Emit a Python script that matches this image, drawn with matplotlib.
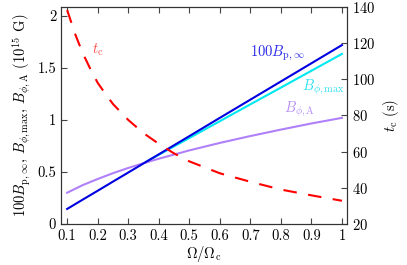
import matplotlib
matplotlib.use("Agg")
import matplotlib.pyplot as plt
from matplotlib.ticker import FuncFormatter

plt.rcParams['font.family'] = 'serif'
plt.rcParams['font.serif'] = ['cmr10', 'DejaVu Serif']
plt.rcParams['mathtext.fontset'] = 'cm'
plt.rcParams['axes.formatter.use_mathtext'] = True
plt.rcParams['font.size'] = 10.5

# data
omega = [0.1, 0.15, 0.2, 0.25, 0.3, 0.35, 0.4, 0.5, 0.6, 0.7, 0.8, 0.9, 1.0]
bp100 = [0.144, 0.232, 0.319, 0.407, 0.494, 0.582, 0.669, 0.844, 1.02, 1.195, 1.37, 1.545, 1.72]
omega_max = [0.36, 0.4, 0.5, 0.6, 0.7, 0.8, 0.9, 1.0]
bphi_max = [0.60, 0.665, 0.826, 0.988, 1.15, 1.311, 1.473, 1.635]
bphi_a = [0.300, 0.372, 0.432, 0.488, 0.538, 0.584, 0.627, 0.707, 0.779, 0.845, 0.907, 0.966, 1.02]
omega_tc = [0.1, 0.125, 0.15, 0.175, 0.2, 0.225, 0.25, 0.3, 0.35, 0.4, 0.45, 0.5, 0.6, 0.7, 0.8, 0.9, 1.0]
tc = [138.3, 125.5, 114.8, 106.0, 98.0, 92.0, 86.3, 77.5, 70.2, 64.3, 59.0, 54.6, 48.0, 43.3, 39.0, 35.8, 32.8]

fig = plt.figure(figsize=(4.07, 2.65), dpi=100)
ax = fig.add_axes([0.150, 0.155, 0.703, 0.819])

c_blue = '#0000e0'
c_cyan = '#00e8f0'
c_purple = '#b080f8'
c_red = '#ff0000'

ax.plot(omega_max, bphi_max, color=c_cyan, lw=1.5)
ax.plot(omega, bphi_a, color=c_purple, lw=1.5)
ax.plot(omega, bp100, color=c_blue, lw=1.5)

ax.set_xlim(0.08, 1.017)
ax.set_ylim(0, 2.087)
ax.set_xticks([0.1, 0.2, 0.3, 0.4, 0.5, 0.6, 0.7, 0.8, 0.9, 1.0])
ax.set_yticks([0, 0.5, 1, 1.5, 2])
fmt = FuncFormatter(lambda v, p: ('%g' % v))
ax.xaxis.set_major_formatter(fmt)
ax.yaxis.set_major_formatter(fmt)
ax.tick_params(direction='in', top=True, length=4, width=0.8, color='#444444')
ax.set_xlabel(r'$\Omega/\Omega_{\rm c}$', labelpad=1)
ax.set_ylabel(r'$100B_{\rm p,\infty}$, $B_{\phi,{\rm max}}$, $B_{\phi,{\rm A}}$ ($10^{15}$ G)', labelpad=4)

ax2 = ax.twinx()
ax2.plot(omega_tc, tc, color=c_red, lw=1.5, dashes=(6.5, 5.5))
ax2.set_ylim(20, 140)
ax2.set_yticks([20, 40, 60, 80, 100, 120, 140])
ax2.tick_params(direction='in', length=4, width=0.8, color='#444444')
ax2.set_ylabel(r'$t_{\rm c}$ (s)', labelpad=4)

for a in (ax, ax2):
    for s in a.spines.values():
        s.set_color('#333333')
        s.set_linewidth(0.8)

ax.text(0.2, 1.67, r'$t_{\rm c}$', color='#ff5050', ha='center', va='center')
ax.text(0.79, 1.64, r'$100B_{\rm p,\infty}$', color='#2828e8', ha='center', va='center')
ax.text(0.94, 1.31, r'$B_{\phi,{\rm max}}$', color='#30e0f0', ha='center', va='center')
ax.text(0.86, 1.10, r'$B_{\phi,{\rm A}}$', color='#b890f8', ha='center', va='center')

fig.savefig('out.png', dpi=100)
